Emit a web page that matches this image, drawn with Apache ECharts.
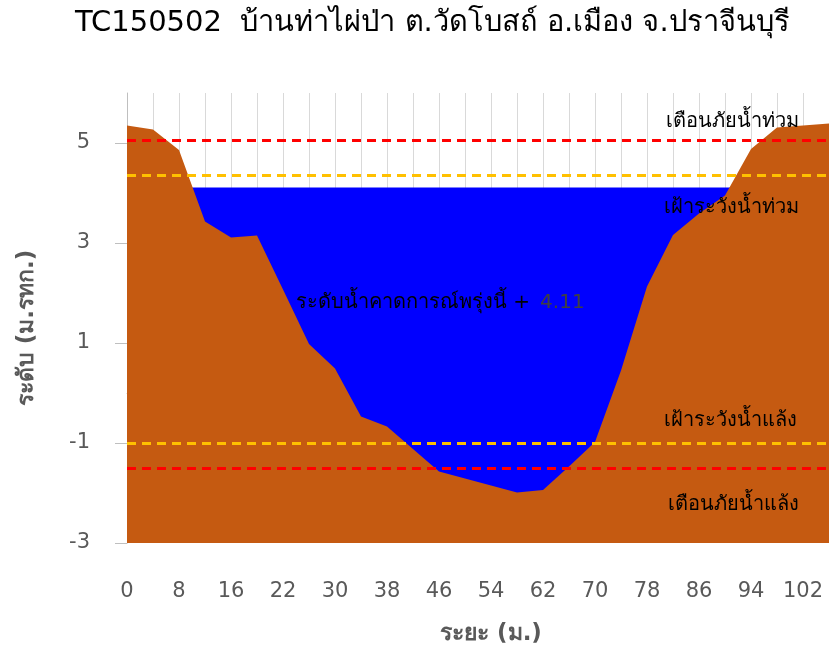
<!DOCTYPE html>
<html>
<head>
<meta charset="utf-8">
<script src="https://cdn.jsdelivr.net/npm/echarts@6/dist/echarts.min.js"></script>
<style>
html,body{margin:0;padding:0;background:#fff;}
#chart{width:829px;height:654px;}
</style>
</head>
<body>
<div id="chart"></div>
<script>
// ---- data ----
const TITLE = 'TC150502  บ้านท่าไผ่ป่า ต.วัดโบสถ์ อ.เมือง จ.ปราจีนบุรี';
const DISTANCES = ['0','4','8','12','16','19','22','26','30','34','38','42','46','50','54','58','62','66','70','74','78','82','86','90','94','98','102','106'];
const GROUND_LEVEL = [5.35,5.27,4.86,3.43,3.11,3.15,2.07,0.98,0.49,-0.47,-0.67,-1.12,-1.57,-1.71,-1.85,-1.99,-1.94,-1.47,-0.98,0.45,2.13,3.16,3.59,3.95,4.88,5.31,5.35,5.39];
const WATER_LEVEL = 4.11;
const FLOOD_WARNING = 5.05;
const FLOOD_WATCH = 4.35;
const DROUGHT_WATCH = -1.0;
const DROUGHT_WARNING = -1.5;
const Y_TICKS = [-3,-1,1,3,5];
const Y_MIN = -3, Y_MAX = 6;

const FONT = '"DejaVu Sans", "Noto Sans", sans-serif';
const chart = echarts.init(document.getElementById('chart'));

function thresholdLine(value, color, text, pos, dist) {
  return {
    yAxis: value,
    lineStyle: {color: color, type: [9, 6], width: 3},
    label: {show: true, formatter: text, position: pos, distance: dist,
            color: '#000', fontSize: 20, fontFamily: FONT}
  };
}

const option = {
  animation: false,
  title: {
    text: TITLE, left: 70, top: 4,
    textStyle: {fontSize: 29, fontWeight: 'normal', color: '#000', fontFamily: FONT}
  },
  grid: {left: 127, right: 0, top: 93, bottom: 111},
  xAxis: {
    type: 'category', data: DISTANCES, boundaryGap: false,
    name: 'ระยะ (ม.)', nameLocation: 'middle', nameGap: 80,
    nameTextStyle: {fontSize: 23, fontWeight: 'bold', color: '#595959', fontFamily: FONT, padding: [0,0,0,26]},
    axisLine: {lineStyle: {color: '#BFBFBF', width: 1}},
    axisTick: {show: true, interval: 0, length: 13, lineStyle: {color: '#BFBFBF'}},
    axisLabel: {interval: 1, margin: 38, fontSize: 21, color: '#595959', fontFamily: FONT},
    splitLine: {show: true, interval: 0, lineStyle: {color: '#D9D9D9', width: 1}}
  },
  yAxis: {
    type: 'value', min: Y_MIN, max: Y_MAX,
    name: 'ระดับ (ม.รทก.)', nameLocation: 'middle', nameGap: 88,
    nameTextStyle: {fontSize: 23, fontWeight: 'bold', color: '#595959', fontFamily: FONT, padding: [0,20,0,0]},
    axisLine: {show: true, lineStyle: {color: '#BFBFBF', width: 1}},
    axisTick: {show: true, length: 12, customValues: Y_TICKS, lineStyle: {color: '#BFBFBF'}},
    axisLabel: {customValues: Y_TICKS, margin: 37, fontSize: 21, color: '#595959', fontFamily: FONT},
    splitLine: {show: false}
  },
  graphic: [{
    type: 'text', left: 296, top: 293, z: 100,
    style: {
      text: '{a|ระดับน้ำคาดการณ์พรุ่งนี้ +}   {b|' + WATER_LEVEL.toFixed(2) + '}',
      rich: {
        a: {fontSize: 20, fill: '#000', fontFamily: FONT},
        b: {fontSize: 20, fill: '#404040', fontFamily: FONT}
      }
    }
  }],
  series: [
    {
      name: 'water', type: 'line', z: 1,
      data: DISTANCES.map(() => WATER_LEVEL),
      symbol: 'none', lineStyle: {width: 0},
      areaStyle: {color: '#0000FF', opacity: 1, origin: 'start'}
    },
    {
      name: 'ground', type: 'line', z: 2,
      data: GROUND_LEVEL,
      symbol: 'none', lineStyle: {width: 0},
      areaStyle: {color: '#C55A11', opacity: 1, origin: 'start'},
      markLine: {
        silent: true, symbol: 'none', z: 5, animation: false,
        data: [
          thresholdLine(FLOOD_WARNING, '#FF0000', 'เตือนภัยน้ำท่วม', 'insideEndTop', [30, 9]),
          thresholdLine(FLOOD_WATCH, '#FFC000', 'เฝ้าระวังน้ำท่วม', 'insideEndBottom', [30, 22]),
          thresholdLine(DROUGHT_WATCH, '#FFC000', 'เฝ้าระวังน้ำแล้ง', 'insideEndTop', [32, 12]),
          thresholdLine(DROUGHT_WARNING, '#FF0000', 'เตือนภัยน้ำแล้ง', 'insideEndBottom', [30, 27])
        ]
      }
    }
  ]
};
chart.setOption(option);
</script>
</body>
</html>
